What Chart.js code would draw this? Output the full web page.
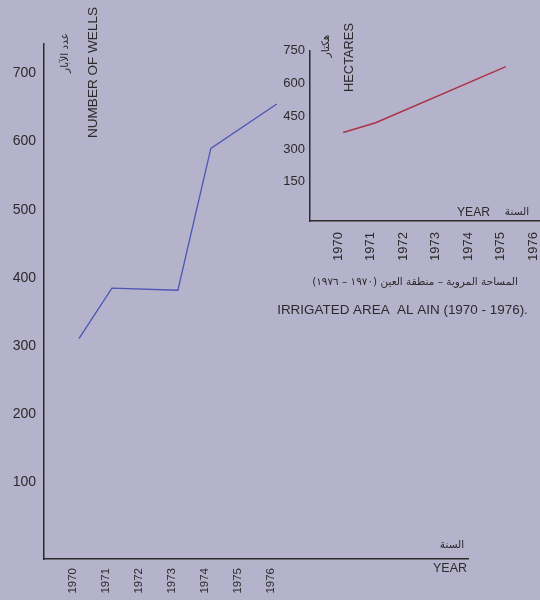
<!DOCTYPE html>
<html>
<head>
<meta charset="utf-8">
<script src="https://cdn.jsdelivr.net/npm/chart.js@4.4.1/dist/chart.umd.min.js"></script>
<style>
  html, body { margin: 0; padding: 0; background: #b5b2cb; }
  #wrap { position: relative; width: 540px; height: 600px; overflow: hidden; }
  #wellsChart { position: absolute; left: 0; top: 0; }
  #areaChart { position: absolute; left: 250px; top: 0; }
</style>
</head>
<body>
<div id="wrap">
  <canvas id="wellsChart" width="540" height="600"></canvas>
  <canvas id="areaChart" width="290" height="340"></canvas>
</div>
<script>
const years = [1970, 1971, 1972, 1973, 1974, 1975, 1976];
// number of wells (null where the line has no corner)
const wells = [311, 385, null, 382, 590, null, 655];
// irrigated area in hectares
const hectares = [375, 420, null, null, null, 677, null];
const wellTicks = [100, 200, 300, 400, 500, 600, 700];
const hectareTicks = [150, 300, 450, 600, 750];

const ink = "#2b2b2b";
const latin = "'Liberation Sans', Arial, sans-serif";
const arabic = "'DejaVu Sans', sans-serif";

// free text on the page: centre, then either a target length (w) or a font size (size)
const notes = [
    { text: "عدد الآبار", x: 65, y: 53, size: 10.5, rot: true, ar: true },
    { text: "NUMBER OF WELLS", x: 93, y: 72.5, w: 131, rot: true },
    { text: "هكتار", x: 326, y: 46, size: 10.5, rot: true, ar: true },
    { text: "HECTARES", x: 349, y: 57.5, w: 69, rot: true },
    { text: "YEAR", x: 473.5, y: 213, w: 33 },
    { text: "السنة", x: 517, y: 212, size: 10.5, ar: true },
    { text: "المساحة المروية – منطقة العين (١٩٧٠ – ١٩٧٦)", x: 415, y: 282, w: 206, ar: true },
    { text: "IRRIGATED AREA  AL AIN (1970 - 1976).", x: 402.5, y: 310, w: 251 },
    { text: "السنة", x: 452, y: 545, size: 10.5, ar: true },
    { text: "YEAR", x: 450, y: 569, w: 34 },
];

const notesPlugin = {
    id: "notes",
    afterDraw(chart) {
        const ctx = chart.ctx;
        notes.forEach(n => {
            const family = n.ar ? arabic : latin;
            ctx.save();
            let size = n.size;
            if (!size) {
                ctx.font = "20px " + family;
                size = 20 * n.w / ctx.measureText(n.text).width;
            }
            ctx.font = size.toFixed(2) + "px " + family;
            ctx.fillStyle = ink;
            ctx.textAlign = "center";
            ctx.textBaseline = "middle";
            ctx.direction = n.ar ? "rtl" : "ltr";
            ctx.translate(n.x, n.y);
            if (n.rot) ctx.rotate(-Math.PI / 2);
            ctx.fillText(n.text, 0, 0);
            ctx.restore();
        });
    },
};

function toPoints(values) {
    return years.map((y, i) => ({ x: y, y: values[i] }));
}

// keep plot edges where the layout padding puts them
function noEdgePadding(s) {
    s.paddingLeft = 0;
    s.paddingRight = 0;
}

new Chart(document.getElementById("wellsChart"), {
    type: "line",
    data: {
        datasets: [{
            data: toPoints(wells),
            borderColor: "#4e57b6",
            borderWidth: 1.3,
            pointRadius: 0,
            tension: 0,
            spanGaps: true,
        }],
    },
    options: {
        responsive: false,
        animation: false,
        devicePixelRatio: 1,
        layout: { padding: { top: 44, right: 72, left: 0, bottom: 0 } },
        plugins: { legend: { display: false }, tooltip: { enabled: false } },
        scales: {
            x: {
                type: "linear",
                min: 1968.94,
                max: 1981.8,
                grid: { display: false, drawTicks: false },
                border: { color: ink, width: 1.5 },
                afterBuildTicks: s => { s.ticks = years.map(v => ({ value: v })); },
                afterFit: s => { s.height = 41; noEdgePadding(s); },
                ticks: {
                    color: ink,
                    font: { family: latin, size: 11.5 },
                    minRotation: 90,
                    maxRotation: 90,
                    autoSkip: false,
                    padding: 9,
                    labelOffset: -6,
                    callback: v => String(v),
                },
            },
            y: {
                min: -12,
                max: 743,
                grid: { display: false, drawTicks: false },
                border: { color: ink, width: 1.5 },
                afterBuildTicks: s => { s.ticks = wellTicks.map(v => ({ value: v })); },
                afterFit: s => { s.width = 44; },
                ticks: {
                    color: ink,
                    font: { family: latin, size: 14 },
                    padding: 8,
                    callback: v => String(v),
                },
            },
        },
    },
    plugins: [notesPlugin],
});

new Chart(document.getElementById("areaChart"), {
    type: "line",
    data: {
        datasets: [{
            data: toPoints(hectares),
            borderColor: "#ad3445",
            borderWidth: 1.5,
            pointRadius: 0,
            tension: 0,
            spanGaps: true,
        }],
    },
    options: {
        responsive: false,
        animation: false,
        devicePixelRatio: 1,
        layout: { padding: { top: 50.7, right: 0, left: 0, bottom: 0 } },
        plugins: { legend: { display: false }, tooltip: { enabled: false } },
        scales: {
            x: {
                type: "linear",
                min: 1968.98,
                max: 1976.05,
                grid: { display: false, drawTicks: false },
                border: { color: ink, width: 1.5 },
                afterBuildTicks: s => { s.ticks = years.map(v => ({ value: v })); },
                afterFit: s => { s.height = 119; noEdgePadding(s); },
                ticks: {
                    color: ink,
                    font: { family: latin, size: 13 },
                    minRotation: 90,
                    maxRotation: 90,
                    autoSkip: false,
                    padding: 11,
                    labelOffset: -5,
                    callback: v => String(v),
                },
            },
            y: {
                min: -30,
                max: 750,
                grid: { display: false, drawTicks: false },
                border: { color: ink, width: 1.5 },
                afterBuildTicks: s => { s.ticks = hectareTicks.map(v => ({ value: v })); },
                afterFit: s => { s.width = 60; },
                ticks: {
                    color: ink,
                    font: { family: latin, size: 13 },
                    padding: 5,
                    callback: v => String(v),
                },
            },
        },
    },
});
</script>
</body>
</html>
